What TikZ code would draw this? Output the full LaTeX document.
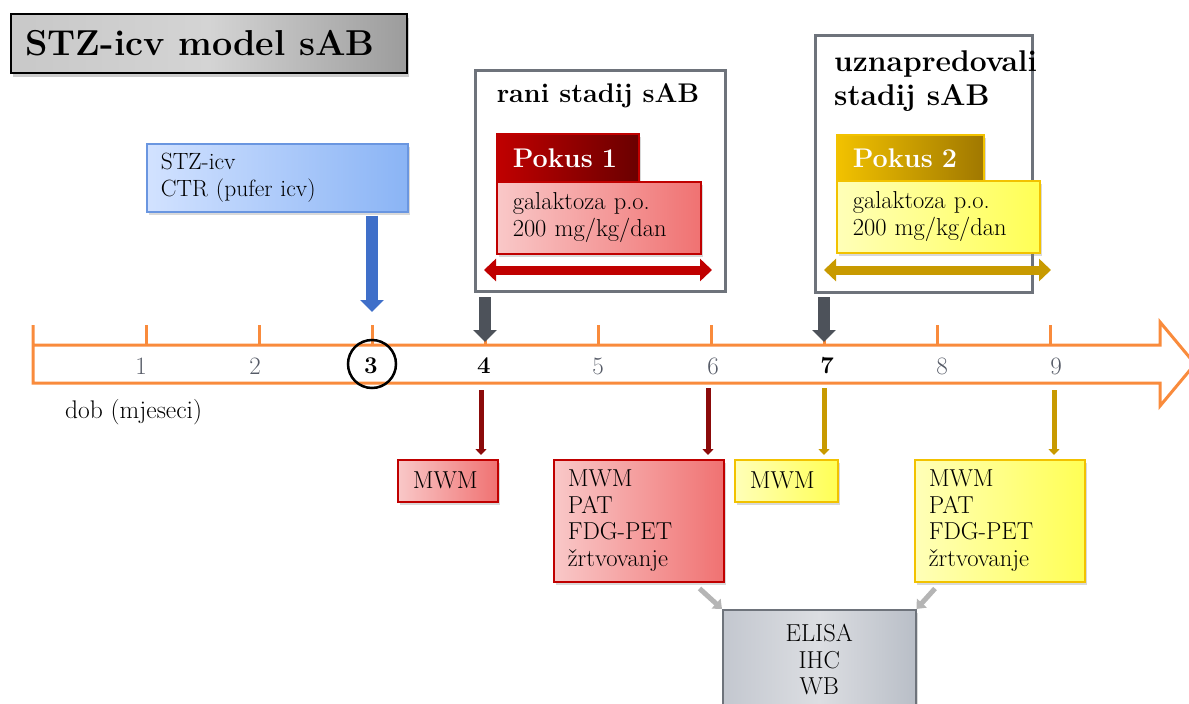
\documentclass[tikz,border=0pt]{standalone}
\usetikzlibrary{arrows.meta,shadows,calc}
\definecolor{axisor}{HTML}{F98B3C}
\definecolor{numgray}{HTML}{555A66}
\definecolor{framegray}{HTML}{6E737B}
\definecolor{darkred}{HTML}{8B0A0A}
\definecolor{hdrred}{HTML}{C00000}
\definecolor{hdrredd}{HTML}{6A0000}
\definecolor{pinkl}{HTML}{F9C8C8}
\definecolor{pinkr}{HTML}{F07272}
\definecolor{goldb}{HTML}{F2C200}
\definecolor{goldd}{HTML}{A07800}
\definecolor{goldarr}{HTML}{C89A00}
\definecolor{yell}{HTML}{FFFFB8}
\definecolor{yelr}{HTML}{FFFF55}
\definecolor{bluel}{HTML}{D2E2FF}
\definecolor{bluer}{HTML}{8AB4F5}
\definecolor{blueb}{HTML}{6A96E0}
\definecolor{bluearr}{HTML}{3F6FC9}
\definecolor{slate}{HTML}{4D525A}
\definecolor{connGray}{HTML}{B5B5B5}
\definecolor{elisaL}{HTML}{C3C7CF}
\definecolor{elisaM}{HTML}{DCDEE2}
\definecolor{elisaR}{HTML}{B9BEC7}
\definecolor{titleL}{HTML}{C8C8C8}
\definecolor{titleM}{HTML}{D4D4D4}
\definecolor{titleR}{HTML}{9C9C9C}
\begin{document}
\begin{tikzpicture}[x=1pt,y=-1pt,
  bx/.style={anchor=north west, line width=1.5pt, align=left, inner ysep=0pt,
    font=\fontsize{24.5}{26.5}\selectfont},
  shad/.style={drop shadow={shadow xshift=2pt,shadow yshift=-3pt,opacity=0.3}},
  frame/.style={anchor=north west, draw=framegray, line width=3pt, fill=white},
  pinkbox/.style={bx, draw=hdrred, left color=pinkl, right color=pinkr, shad},
  yelbox/.style={bx, draw=goldb, left color=yell, right color=yelr, shad},
  hdr/.style={bx, text=white, font=\fontsize{27}{30}\selectfont\bfseries, shad},
  fatarrow/.style={line width=12pt, -{Triangle[width=23pt,length=12pt]}},
  dblarrow/.style={line width=9pt, {Triangle[width=22pt,length=12pt]}-{Triangle[width=22pt,length=12pt]}},
  thinarrow/.style={line width=5pt, -{Triangle[width=11pt,length=6pt]}, shorten >=4pt},
  connarrow/.style={draw=connGray, line width=5pt, -{Triangle[width=13pt,length=8pt]}},
  axisline/.style={draw=axisor, line width=3pt},
  num/.style={text=numgray, font=\fontsize{25}{26}\selectfont},
  bnum/.style={text=black, font=\fontsize{24}{26}\selectfont\bfseries}
]
\useasboundingbox (0,0) rectangle (1189,704);

% title
\node[anchor=north west, draw=black, line width=2pt, left color=titleL, right color=titleR, middle color=titleM,
  minimum width=396pt, minimum height=59pt,
  drop shadow={shadow xshift=2pt,shadow yshift=-4pt,opacity=0.4}] (title) at (10,13) {};
\node[anchor=west, inner sep=0pt, font=\fontsize{36}{40}\selectfont\bfseries] (titletext) at (25,43) {STZ-icv model sAB};

% blue box
\node[bx, draw=blueb, left color=bluel, right color=bluer, shad, minimum width=261pt, minimum height=68pt,
  text width=233pt, inner xsep=14pt, font=\fontsize{23.5}{27}\selectfont] (stz) at (146,143) {STZ-icv\\CTR (pufer icv)};

% frames
\node[frame, minimum width=250pt, minimum height=221pt] (rani) at (474,69) {};
\node[font=\fontsize{27}{33}\selectfont\bfseries] (ranit) at (598,96) {rani stadij sAB};
\node[frame, minimum width=217pt, minimum height=257pt] (uzna) at (814,34) {};
\node[anchor=north west, align=left, inner sep=0pt, font=\fontsize{30}{34}\selectfont\bfseries] (uznat) at (834,50) {uznapredovali\\stadij sAB};

% Pokus 1
\node[hdr, left color=hdrred, right color=hdrredd, draw=hdrred, minimum width=142pt, minimum height=48pt,
  text width=110pt, inner xsep=16pt] (p1) at (496,133) {Pokus 1};
\node[pinkbox, minimum width=204pt, minimum height=72pt, text width=172pt, inner xsep=16pt] (g1) at (496,181) {galaktoza p.o.\\200 mg/kg/dan};
% Pokus 2
\node[hdr, left color=goldb, right color=goldd, draw=goldb, minimum width=147pt, minimum height=46pt,
  text width=115pt, inner xsep=16pt] (p2) at (836,134) {Pokus 2};
\node[yelbox, minimum width=203pt, minimum height=72pt, text width=171pt, inner xsep=16pt] (g2) at (836,180) {galaktoza p.o.\\200 mg/kg/dan};

% double arrows
\coordinate (r1a) at (484,270); \coordinate (r1b) at (712,270);
\coordinate (y1a) at (824,270); \coordinate (y1b) at (1051,270);
\draw[dblarrow, draw=hdrred] (r1a) -- (r1b);
\draw[dblarrow, draw=goldarr] (y1a) -- (y1b);

% axis
\draw[axisline, line join=miter] (33,325) -- (33,383) -- (1160,383) -- (1160,406) -- (1195,364) -- (1160,322) -- (1160,345) -- (33,345);
\foreach \x in {146,259,372,485,598,711,824,937,1050} {
  \draw[axisline] (\x,325) -- (\x,345);
}
\node[num] (n1) at (141,366) {1};
\node[num] (n2) at (255,366) {2};
\node[bnum] (n3) at (371,366) {3};
\node[bnum] (n4) at (484,366) {4};
\node[num] (n5) at (598,366) {5};
\node[num] (n6) at (713,366) {6};
\node[bnum] (n7) at (827,366) {7};
\node[num] (n8) at (942,366) {8};
\node[num] (n9) at (1056,366) {9};
\draw[black, line width=2.5pt] (372,364) circle[radius=24pt];
\node[anchor=west, inner sep=0pt, font=\fontsize{25.5}{26}\selectfont] (dob) at (65,412) {dob (mjeseci)};

% arrows to the axis
\coordinate (a3) at (372,312);
\coordinate (a4) at (485,342);
\coordinate (a7) at (824,342);
\draw[fatarrow, draw=bluearr] ($(stz.south -| a3)+(0,3)$) -- (a3);
\draw[fatarrow, draw=slate] ($(rani.south -| a4)+(0,4)$) -- (a4);
\draw[fatarrow, draw=slate] ($(uzna.south -| a7)+(0,3)$) -- (a7);

% bottom boxes
\node[pinkbox, minimum width=100pt, minimum height=42pt, text width=70pt, inner xsep=15pt] (m1) at (397,459) {MWM};
\node[pinkbox, minimum width=170pt, minimum height=122pt, text width=142pt, inner xsep=14pt] (b1) at (553,459) {MWM\\PAT\\FDG-PET\\žrtvovanje};
\node[yelbox, minimum width=103pt, minimum height=42pt, text width=73pt, inner xsep=15pt] (m2) at (734,459) {MWM};
\node[yelbox, minimum width=170pt, minimum height=122pt, text width=142pt, inner xsep=14pt] (b2) at (914,459) {MWM\\PAT\\FDG-PET\\žrtvovanje};
\node[bx, anchor=north west, align=center, draw=framegray, left color=elisaL, right color=elisaR, middle color=elisaM,
  shad, minimum width=193pt, minimum height=100pt, text width=165pt, inner xsep=14pt] (el) at (722,609) {ELISA\\IHC\\WB};

% arrows from the axis
\coordinate (d4) at (481,390);
\coordinate (d6) at (708,388);
\coordinate (d7) at (824,388);
\coordinate (d9) at (1054,390);
\draw[thinarrow, draw=darkred] (d4) -- (d4 |- m1.north);
\draw[thinarrow, draw=darkred] (d6) -- (d6 |- b1.north);
\draw[thinarrow, draw=goldarr] (d7) -- (d7 |- m2.north);
\draw[thinarrow, draw=goldarr] (d9) -- (d9 |- b2.north);

% connectors to ELISA
\draw[connarrow] ($(b1.south east)+(-25,6)$) -- (el.north west);
\draw[connarrow] ($(b2.south west)+(21,6)$) -- (el.north east);
\end{tikzpicture}
\end{document}
